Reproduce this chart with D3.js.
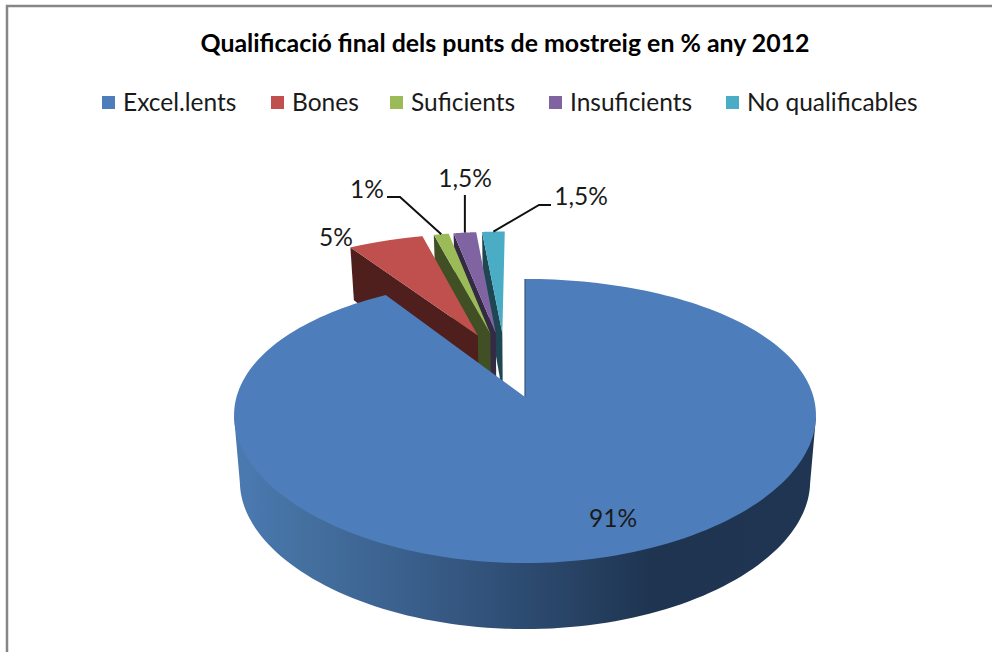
<!DOCTYPE html>
<html><head><meta charset="utf-8">
<script src="https://cdnjs.cloudflare.com/ajax/libs/d3/7.8.5/d3.min.js"></script>
<style>html,body{margin:0;padding:0;background:#fff}svg{display:block}text{font-family:Lato,"Open Sans",sans-serif;fill:#1a1a1a}</style>
</head><body><svg id="c" width="992" height="652"></svg>
<script>
const titleText = "Qualificació final dels punts de mostreig en % any 2012";
const categories = ["Excel.lents","Bones","Suficients","Insuficients","No qualificables"];
const values = [91,5,1,1.5,1.5];
const valueLabels = ["91%","5%","1%","1,5%","1,5%"];
const topColors = ["#4D7EBB","#C0504D","#9BBB59","#8064A2","#4BACC6"];
const wallColors = ["#2f4d70","#4f1f1d","#414f25","#352a44","#1f4753"];

const svg = d3.select("#c");
const color = d3.scaleOrdinal(categories, topColors);
const wall = d3.scaleOrdinal(categories, wallColors);
const pie = d3.pie().sort(null)(values);
const slices = pie.map((p,i)=>({...p,name:categories[i],label:valueLabels[i],mid:(p.startAngle+p.endAngle)/2}));

// perspective projection of the pie plane; unit radius, blue apex is the origin
const ax=525, ay=397, A=138, B=288.5, K=0.169, KX=0.13, EXPLODE=0.257;
const blueDir=[Math.sin(slices[0].mid),-Math.cos(slices[0].mid)];
const C=[-EXPLODE*blueDir[0],-EXPLODE*blueDir[1]];
function project(u,v,z){
  const w=1-K*v, wx=1-KX*v, s=1-0.02*z;
  const depth=v>0?66:66+10*v;
  return [ax+B*s*u/wx, ay+A*v/w+z*depth];
}
const origin=d=>[C[0]+EXPLODE*Math.sin(d.mid),C[1]-EXPLODE*Math.cos(d.mid)];
const rimPt=(d,a,z)=>{const o=origin(d);return project(o[0]+Math.sin(a),o[1]-Math.cos(a),z);};
const apex=(d,z)=>{const o=origin(d);return project(o[0],o[1],z);};
const line=d3.line();
const arcAngles=(d)=>d3.range(0,201).map(i=>d3.scaleLinear([0,200],[d.startAngle,d.endAngle])(i));

// gradient for the rim
const defs=svg.append("defs");
const grad=defs.append("linearGradient").attr("id","rim").attr("gradientUnits","userSpaceOnUse")
  .attr("x1",235).attr("x2",817).attr("y1",0).attr("y2",0);
[[0,"#4b7ab3"],[0.12,"#44709f"],[0.3,"#3a5f8c"],[0.5,"#2d4b70"],[0.72,"#1e3450"],[1,"#1f3551"]]
  .forEach(s=>grad.append("stop").attr("offset",s[0]).attr("stop-color",s[1]));

// frame
svg.append("path").attr("d",line([[7,652],[7,6],[992,6]])).attr("fill","none").attr("stroke","#868686").attr("stroke-width",2.5);

// title
svg.append("text").attr("x",505).attr("y",52).attr("text-anchor","middle")
  .attr("font-size",24.9).attr("font-weight",700).style("fill","#000").text(titleText);

// legend
const legendX=d3.scaleOrdinal(categories,[102,271,390,549,726]);
const lg=svg.append("g").selectAll("g").data(categories).join("g").attr("transform",d=>`translate(${legendX(d)},0)`);
lg.append("rect").attr("y",96).attr("width",13).attr("height",13).attr("fill",d=>color(d));
lg.append("text").attr("x",21).attr("y",111).attr("font-size",24.5).text(d=>d);

// exploded slices back to front, blue last
const order=[4,3,2,1];
const g=svg.append("g");
order.forEach(i=>{
  const d=slices[i];
  const wallPts=[apex(d,0),rimPt(d,d.startAngle,0),rimPt(d,d.startAngle,1),apex(d,1)];
  g.append("path").attr("d",line(wallPts)+"Z").attr("fill",wall(d.name));
  const topPts=[apex(d,0),...arcAngles(d).map(a=>rimPt(d,a,0))];
  g.append("path").attr("d",line(topPts)+"Z").attr("fill",color(d.name));
});
// blue slice: rim runs between the horizontal extremes of the top face
const b=slices[0];
const ang=arcAngles(b);
const aRight=d3.greatest(ang,a=>rimPt(b,a,0)[0]);
const aLeft=d3.least(ang,a=>rimPt(b,a,0)[0]);
const front=ang.filter(a=>a>=aRight&&a<=aLeft);
g.append("path").attr("d",line([rimPt(b,aRight,0),...front.map(a=>rimPt(b,a,1)),rimPt(b,aLeft,0)])+"Z").attr("fill","url(#rim)");
g.append("path").attr("d",line([apex(b,0),...ang.map(a=>rimPt(b,a,0))])+"Z").attr("fill",color(b.name));
g.append("path").attr("d",line([apex(b,0),rimPt(b,b.startAngle,0)])).attr("stroke","#35567d").attr("stroke-width",1.2).attr("fill","none");

// leader lines
const mids=slices.map(d=>rimPt(d,d.mid,0));
const lead=[[2,[[387,197],[400,197]]],[3,[[mids[3][0],195]]],[4,[[551,205],[539,205]]]];
lead.forEach(([i,pts])=>{
  g.append("path").attr("d",line([...pts,mids[i]])).attr("fill","none").attr("stroke","#111").attr("stroke-width",2);
});
// value labels
const labelPos=[[613,527],[336,246],[367,198],[465,187],[581,205]];
svg.append("g").selectAll("text").data(slices).join("text")
  .attr("x",(d,i)=>labelPos[i][0]).attr("y",(d,i)=>labelPos[i][1]).attr("text-anchor","middle").attr("font-size",24.5)
  .text(d=>d.label);
</script></body></html>
